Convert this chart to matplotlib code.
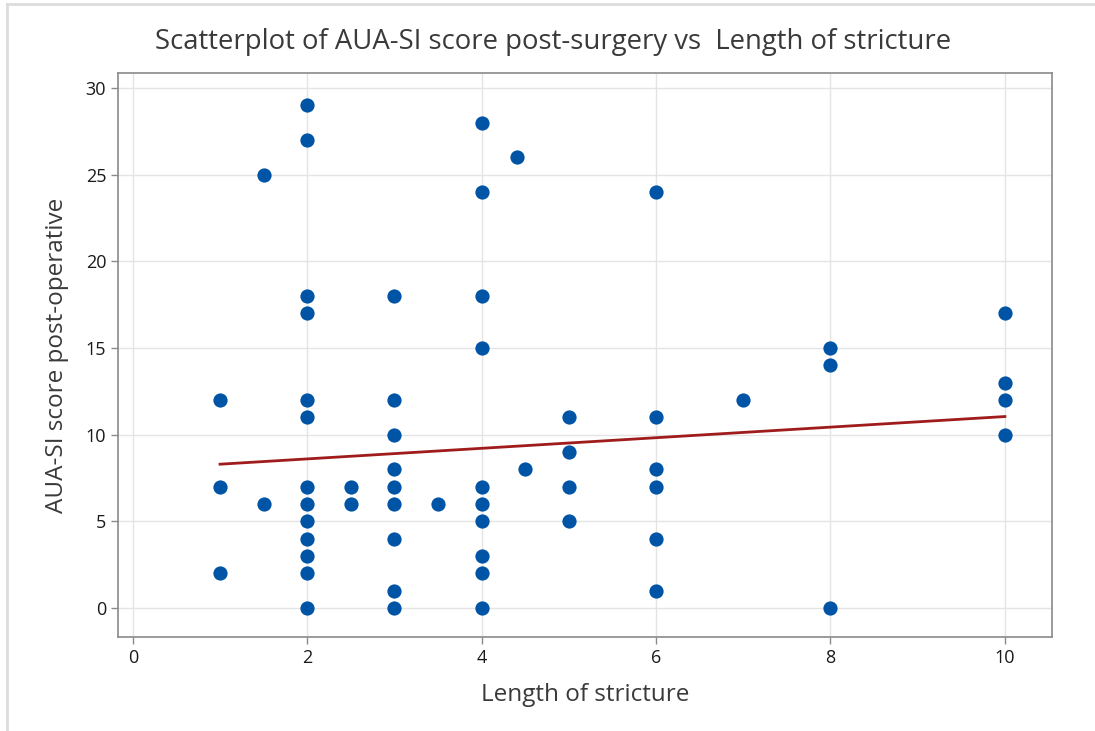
import matplotlib
matplotlib.use("Agg")
import matplotlib.pyplot as plt
from matplotlib.lines import Line2D

length = [1, 1, 1,
          1.5, 1.5,
          2, 2, 2, 2, 2, 2, 2, 2, 2, 2, 2, 2, 2,
          2.5, 2.5,
          3, 3, 3, 3, 3, 3, 3, 3, 3,
          3.5,
          4, 4, 4, 4, 4, 4, 4, 4, 4, 4,
          4.4, 4.5,
          5, 5, 5, 5,
          6, 6, 6, 6, 6, 6,
          7,
          8, 8, 8,
          10, 10, 10, 10]
aua_score = [12, 7, 2,
             25, 6,
             29, 27, 18, 17, 12, 11, 7, 6, 5, 4, 3, 2, 0,
             7, 6,
             18, 12, 10, 8, 7, 6, 4, 1, 0,
             6,
             28, 24, 18, 15, 7, 6, 5, 3, 2, 0,
             26, 8,
             11, 9, 7, 5,
             24, 11, 8, 7, 4, 1,
             12,
             15, 14, 0,
             17, 13, 12, 10]

# fitted line endpoints
fit_x = [1, 10]
fit_y = [8.3, 11.05]

plt.rcParams['font.family'] = ['Open Sans', 'DejaVu Sans']

fig = plt.figure(figsize=(10.95, 7.31), dpi=100)
ax = fig.add_axes([0.1078, 0.1286, 0.8529, 0.7715])

# light frame on the left and top of the picture
fig.add_artist(Line2D([0.0068, 0.0068], [0.0, 0.9945], transform=fig.transFigure,
                      color='#dcdcdc', lw=2))
fig.add_artist(Line2D([0.0068, 1.0], [0.9945, 0.9945], transform=fig.transFigure,
                      color='#dcdcdc', lw=2))

ax.grid(True, color='#e4e4e4', lw=1.0, zorder=0)
ax.scatter(length, aua_score, s=105, color='#0054a6', zorder=3, linewidths=0)
ax.plot(fit_x, fit_y, color='#a01c1c', lw=2.0, zorder=2)

ax.set_xlim(-0.17, 10.54)
ax.set_ylim(-1.67, 30.87)
ax.set_xticks([0, 2, 4, 6, 8, 10])
ax.set_yticks([0, 5, 10, 15, 20, 25, 30])

for sp in ax.spines.values():
    sp.set_color('#8a8a8a')
    sp.set_linewidth(1.2)
ax.tick_params(colors='#8a8a8a', labelcolor='#1a1a1a', labelsize=13, length=5, width=1)

fig.suptitle('Scatterplot of AUA-SI score post-surgery vs  Length of stricture',
             x=0.505, y=0.943, va='center', fontsize=19.8, color='#3a3a3a')
ax.set_xlabel('Length of stricture', fontsize=17.5, color='#3a3a3a', labelpad=12)
ax.set_ylabel('AUA-SI score post-operative', fontsize=17.5, color='#3a3a3a', labelpad=12)

fig.savefig('out.png', dpi=100)
